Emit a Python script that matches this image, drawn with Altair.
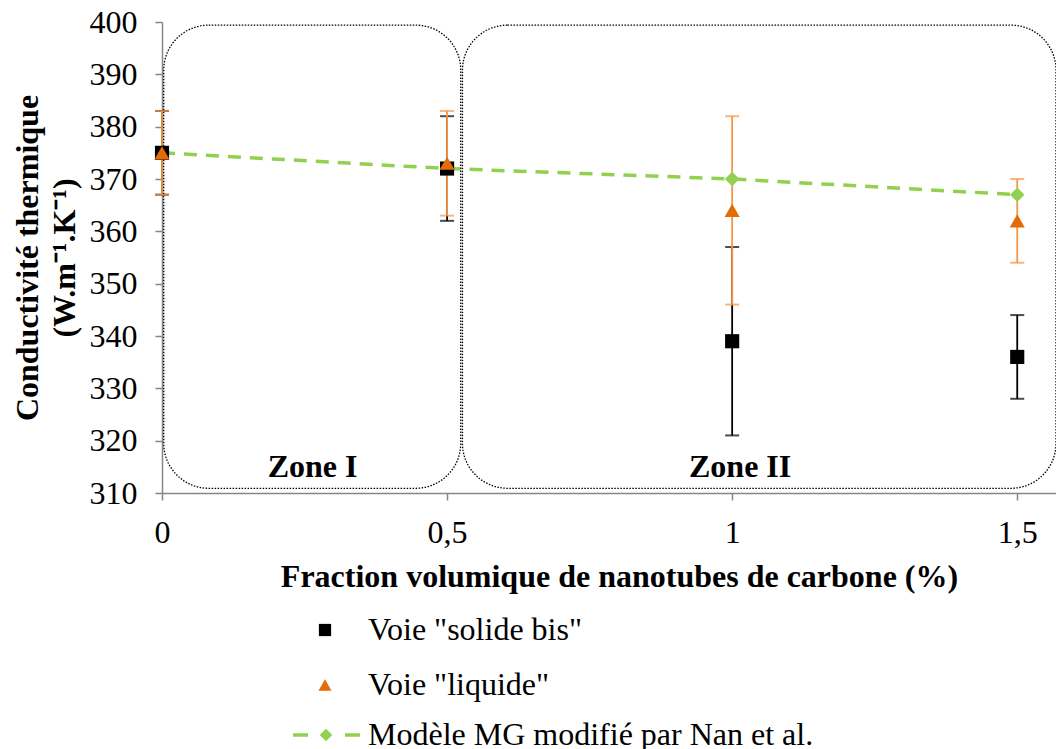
import altair as alt
import pandas as pd

# ---- data ----
x_vals = [0, 0.5, 1, 1.5]
solide = [375, 372, 339, 336]
solide_lo = [367, 362, 321, 328]
solide_hi = [383, 382, 357, 344]
liquide = [375, 373, 364, 362]
liquide_lo = [367, 363, 346, 354]
liquide_hi = [383, 383, 382, 370]
modele = [375, 372, 370, 367]

series_names = ['Voie "solide bis"', 'Voie "liquide"', "Modèle MG modifié par Nan et al."]

zone_labels = ["Zone I", "Zone II"]
zone_x0 = [0.003, 0.527]
zone_x1 = [0.524, 1.568]
zone_y0 = [310.9, 310.9]
zone_y1 = [399.4, 399.4]
zone_label_x = [0.264, 1.014]
zone_label_y = [315, 315]

x_ticks = [0, 0.5, 1, 1.5]
y_ticks = [310, 320, 330, 340, 350, 360, 370, 380, 390, 400]

FONT = "Liberation Serif"
FS = 32
BLACK = "#000000"
ORANGE = "#E36C09"
ORANGE_BAR = "#F79646"
GREEN = "#92D050"
AXIS_GRAY = "#868686"

df = pd.DataFrame({
    "x": x_vals,
    "solide": solide, "solide_lo": solide_lo, "solide_hi": solide_hi,
    "liquide": liquide, "liquide_lo": liquide_lo, "liquide_hi": liquide_hi,
    "modele": modele,
})
zones = pd.DataFrame({
    "label": zone_labels, "x0": zone_x0, "x1": zone_x1,
    "y0": zone_y0, "y1": zone_y1, "lx": zone_label_x, "ly": zone_label_y,
})

xs = alt.Scale(domain=[0, 1.568], nice=False, zero=False)
ys = alt.Scale(domain=[310, 400], nice=False, zero=False)

X = alt.X("x:Q", scale=xs, axis=alt.Axis(
    values=x_ticks, title="Fraction volumique de nanotubes de carbone (%)",
    labelExpr="replace(toString(datum.value), '.', ',')",
    grid=False, domainColor=AXIS_GRAY, domainWidth=1.5, tickColor=AXIS_GRAY,
    tickWidth=1.5, tickSize=7, labelFont=FONT, labelFontSize=FS, labelColor="black",
    labelPadding=17, titleFont=FONT, titleFontSize=FS, titleFontWeight="bold",
    titleColor="black", titlePadding=13, titleX=457, labelFlush=False))


def Y(field):
    return alt.Y(field, scale=ys, axis=alt.Axis(
        values=y_ticks, title=["Conductivité thermique", "(W.m⁻¹.K⁻¹)"],
        grid=False, domainColor=AXIS_GRAY, domainWidth=1.5, tickColor=AXIS_GRAY,
        tickWidth=1.5, tickSize=7, labelFont=FONT, labelFontSize=FS, labelColor="black",
        labelPadding=18, titleFont=FONT, titleFontSize=FS, titleFontWeight="bold",
        titleColor="black", titlePadding=8, titleLineHeight=37))


base = alt.Chart(df)

zone_rect = alt.Chart(zones).mark_rect(
    fillOpacity=0, stroke="black", strokeWidth=1.3, strokeDash=[1.5, 1.5], cornerRadius=45
).encode(x=alt.X("x0:Q", scale=xs), x2="x1:Q", y=Y("y0:Q"), y2="y1:Q")

zone_text = alt.Chart(zones).mark_text(
    font=FONT, fontSize=FS, fontWeight="bold", color="black", baseline="middle"
).encode(x=alt.X("lx:Q", scale=xs), y=alt.Y("ly:Q", scale=ys), text="label:N")


def errbars(lo, hi, color):
    rule = base.mark_rule(color=color, strokeWidth=1.8).encode(
        x=alt.X("x:Q", scale=xs), y=alt.Y(lo + ":Q", scale=ys), y2=hi + ":Q")
    cap_lo = base.mark_tick(color=color, orient="horizontal", size=14, thickness=2).encode(
        x=alt.X("x:Q", scale=xs), y=alt.Y(lo + ":Q", scale=ys))
    cap_hi = base.mark_tick(color=color, orient="horizontal", size=14, thickness=2).encode(
        x=alt.X("x:Q", scale=xs), y=alt.Y(hi + ":Q", scale=ys))
    return rule + cap_lo + cap_hi


eb_sol = errbars("solide_lo", "solide_hi", BLACK)
eb_liq = errbars("liquide_lo", "liquide_hi", ORANGE_BAR)

model_line = base.mark_line(color=GREEN, strokeWidth=3.5, strokeDash=[13, 9]).encode(
    x=X, y=Y("modele:Q"))
model_pts = base.mark_point(shape="diamond", filled=True, size=210, color=GREEN, opacity=1).encode(
    x=alt.X("x:Q", scale=xs), y=alt.Y("modele:Q", scale=ys))
sol_pts = base.mark_point(shape="square", filled=True, size=200, color=BLACK, opacity=1).encode(
    x=alt.X("x:Q", scale=xs), y=alt.Y("solide:Q", scale=ys))
liq_pts = base.mark_point(shape="triangle-up", filled=True, size=230, color=ORANGE, opacity=1).encode(
    x=alt.X("x:Q", scale=xs), y=alt.Y("liquide:Q", scale=ys))

# ---- manual legend below the plot ----
leg_df = pd.DataFrame({"name": series_names, "row": [0, 1, 2]})
leg_rows_y = [608, 663, 713]
leg_sq = alt.Chart(leg_df.iloc[[0]]).mark_point(shape="square", filled=True, size=150, color=BLACK, opacity=1).encode(
    x=alt.value(163), y=alt.value(leg_rows_y[0]))
leg_tri = alt.Chart(leg_df.iloc[[1]]).mark_point(shape="triangle-up", filled=True, size=170, color=ORANGE, opacity=1).encode(
    x=alt.value(163), y=alt.value(leg_rows_y[1]))
leg_line = alt.Chart(leg_df.iloc[[2]]).mark_rule(color=GREEN, strokeWidth=3.5, strokeDash=[15, 37]).encode(
    x=alt.value(131), x2=alt.value(198), y=alt.value(leg_rows_y[2]))
leg_dia = alt.Chart(leg_df.iloc[[2]]).mark_point(shape="diamond", filled=True, size=160, color=GREEN, opacity=1).encode(
    x=alt.value(164), y=alt.value(leg_rows_y[2]))
leg_texts = []
for i in range(3):
    leg_texts.append(alt.Chart(leg_df.iloc[[i]]).mark_text(
        font=FONT, fontSize=FS, color="black", align="left", baseline="middle"
    ).encode(x=alt.value(206), y=alt.value(leg_rows_y[i]), text="name:N"))

chart = alt.layer(
    model_line, zone_rect, zone_text, eb_sol, eb_liq, model_pts, sol_pts, liq_pts,
    leg_sq, leg_tri, leg_line, leg_dia, *leg_texts
).properties(
    width=894, height=471,
    autosize=alt.AutoSizeParams(type="none"),
    padding={"left": 154, "top": 14, "right": 0, "bottom": 256},
).configure_view(stroke=None)

chart.save("out.html", embed_options={"renderer": "svg", "actions": False})
